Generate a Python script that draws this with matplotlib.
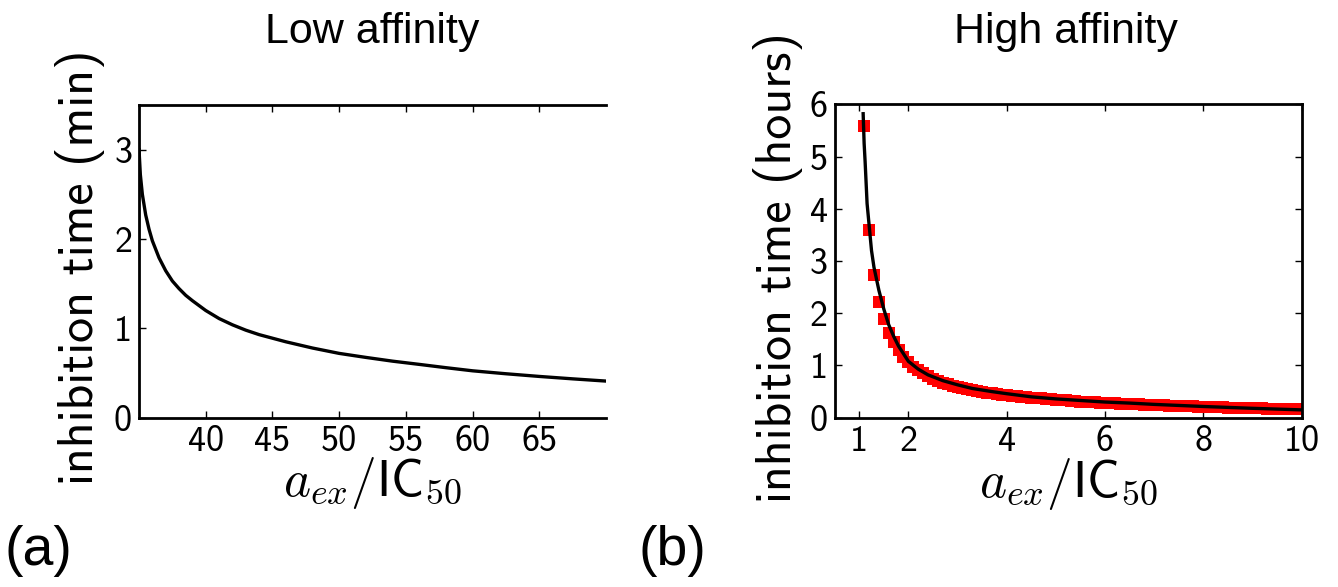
import matplotlib.pyplot as plt
import numpy as np

plt.rcParams['mathtext.fontset'] = 'cm'

# low affinity: inhibition time (min) vs a_ex/IC50
low_x = [35, 35.1, 35.25, 35.5, 35.75, 36, 36.5, 37, 37.5, 38, 38.5, 39, 40, 41, 42, 43, 44, 45,
         46, 47, 48, 50, 52, 54, 56, 58, 60, 62.5, 65, 67.5, 70]
low_y = [3.0, 2.72, 2.50, 2.27, 2.11, 1.98, 1.79, 1.645, 1.53, 1.445, 1.37, 1.31, 1.20, 1.11,
         1.04, 0.98, 0.93, 0.89, 0.85, 0.815, 0.78, 0.72, 0.675, 0.633, 0.597, 0.56, 0.525,
         0.492, 0.462, 0.435, 0.41]

# high affinity: model curve (hours)
high_x = [1.08, 1.10, 1.12, 1.16, 1.2, 1.25, 1.3, 1.4, 1.5, 1.6, 1.7, 1.8, 2.0, 2.2, 2.4, 2.7,
          3.0, 3.3, 3.7, 4.0, 4.5, 5.0, 5.5, 6.0, 6.5, 7.0, 8.0, 9.0, 10.0]
high_y = [5.82, 5.25, 4.9, 4.1, 3.7, 3.2, 2.88, 2.44, 2.08, 1.78, 1.56, 1.37, 1.08, 0.93, 0.82,
          0.71, 0.63, 0.56, 0.50, 0.46, 0.40, 0.36, 0.33, 0.30, 0.28, 0.255, 0.215, 0.18, 0.15]

# high affinity: simulation points, a_ex/IC50 = 1.1 ... 10.0
sim_x = np.round(np.arange(1.1, 10.05, 0.1), 1)
sim_y = [5.58, 3.60, 2.73, 2.22, 1.89, 1.63, 1.45, 1.30, 1.17, 1.07,
         0.98, 0.91, 0.85, 0.80, 0.75, 0.71, 0.67, 0.64, 0.61, 0.585,
         0.565, 0.546, 0.528, 0.511, 0.495, 0.480, 0.467, 0.454, 0.442, 0.430,
         0.420, 0.411, 0.402, 0.393, 0.385, 0.377, 0.369, 0.361, 0.353, 0.345,
         0.338, 0.331, 0.324, 0.317, 0.310, 0.305, 0.300, 0.295, 0.290, 0.285,
         0.280, 0.276, 0.271, 0.266, 0.262, 0.258, 0.254, 0.250, 0.246, 0.242,
         0.239, 0.235, 0.232, 0.228, 0.225, 0.222, 0.219, 0.216, 0.213, 0.210,
         0.207, 0.204, 0.201, 0.198, 0.195, 0.192, 0.190, 0.187, 0.185, 0.182,
         0.180, 0.177, 0.175, 0.172, 0.170, 0.168, 0.165, 0.163, 0.160, 0.158]

low_xticks = [40, 45, 50, 55, 60, 65]
high_xticks = [1, 2, 4, 6, 8, 10]

xlab = r'$a_{ex}/\mathsf{IC}_{50}$'
tick_font = 'cmss10'

fig = plt.figure(figsize=(13.38, 5.87), dpi=100)
ax1 = fig.add_axes([0.1039, 0.2884, 0.349, 0.5327])
ax2 = fig.add_axes([0.6238, 0.2884, 0.349, 0.5339])

# panel (a)
ax1.plot(low_x, low_y, color='black', lw=2.4)
ax1.set_xlim(35, 70)
ax1.set_ylim(0, 3.5)
ax1.set_xticks(low_xticks)
ax1.set_yticks([0, 1, 2, 3])
ax1.spines['right'].set_visible(False)
ax1.tick_params(direction='in', top=True, right=False, length=5, width=1, labelsize=26, pad=5)

# panel (b)
ax2.plot(sim_x, sim_y, 's', color='red', ms=8, mew=0)
ax2.plot(high_x, high_y, color='black', lw=2.4)
ax2.set_xlim(0.5, 10)
ax2.set_ylim(0, 6)
ax2.set_xticks(high_xticks)
ax2.set_yticks(range(7))
ax2.tick_params(direction='in', top=True, right=True, length=5, width=1, labelsize=26, pad=5)

for ax, ylab in [(ax1, 'inhibition time (min)'), (ax2, 'inhibition time (hours)')]:
    for s in ax.spines.values():
        s.set_linewidth(2)
    for lab in ax.get_xticklabels() + ax.get_yticklabels():
        lab.set_fontfamily(tick_font)
    ax.set_xlabel(xlab, fontsize=37, va='center')
    ax.set_ylabel(ylab, fontsize=36, fontfamily=tick_font, va='center')

ax1.xaxis.set_label_coords(0.5, -0.21)
ax2.xaxis.set_label_coords(0.5, -0.21)
ax1.yaxis.set_label_coords(-0.127, 0.48)
ax2.yaxis.set_label_coords(-0.121, 0.48)

fig.text(0.278, 0.945, 'Low affinity', fontsize=31, family='Liberation Sans', ha='center', va='center')
fig.text(0.797, 0.945, 'High affinity', fontsize=31, family='Liberation Sans', ha='center', va='center')
fig.text(0.003, 0.062, '(a)', fontsize=40, family='Liberation Sans', ha='left', va='center')
fig.text(0.477, 0.062, '(b)', fontsize=40, family='Liberation Sans', ha='left', va='center')

fig.savefig('out.png', dpi=100)
